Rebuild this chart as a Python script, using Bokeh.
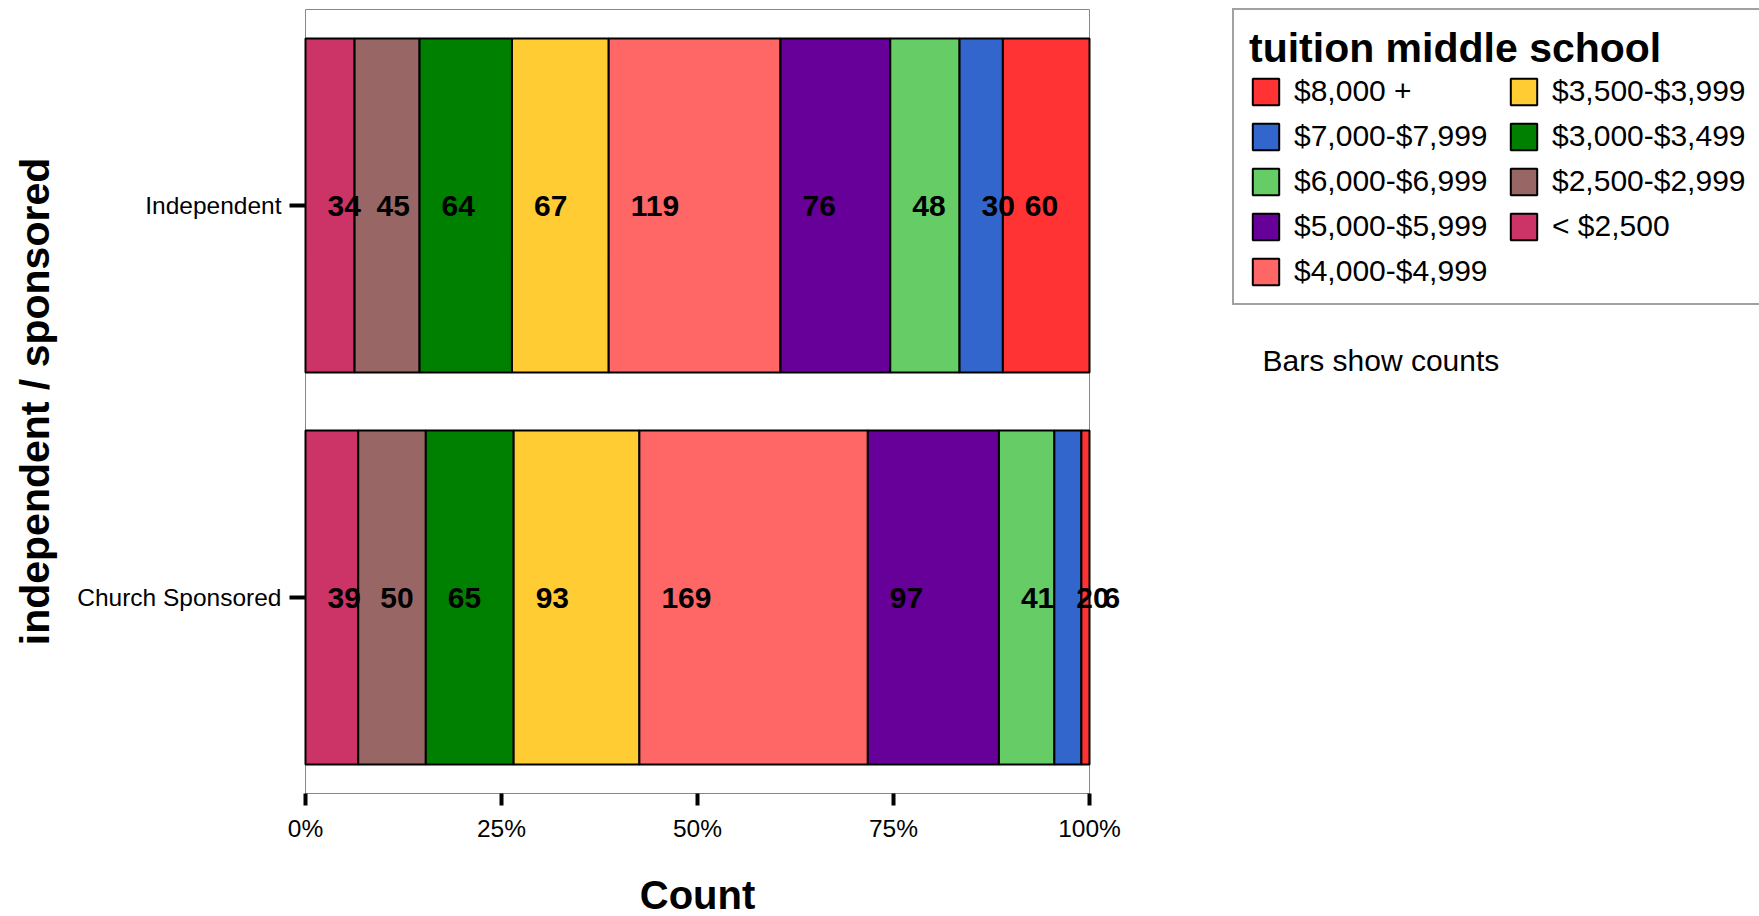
import math
from bokeh.plotting import figure
from bokeh.models import (Range1d, FixedTicker, NumeralTickFormatter,
                          Legend, LegendItem, Label, ColumnDataSource)
from bokeh.core.properties import value
from bokeh.embed import file_html
from bokeh.resources import INLINE

groups = ["Church Sponsored", "Independent"]
tuition = ["< $2,500", "$2,500-$2,999", "$3,000-$3,499", "$3,500-$3,999",
           "$4,000-$4,999", "$5,000-$5,999", "$6,000-$6,999", "$7,000-$7,999", "$8,000 +"]
colors = ["#CC3366", "#996666", "#008000", "#FFCC33", "#FF6666",
          "#660099", "#66CC66", "#3366CC", "#FF3333"]
counts_independent = [34, 45, 64, 67, 119, 76, 48, 30, 60]
counts_church = [39, 50, 65, 93, 169, 97, 41, 20, 6]
x_ticks = [0, 0.25, 0.5, 0.75, 1.0]

FONT = "Liberation Sans"

W, H = 1759, 916
# plot area (0..100%, both groups) in canvas pixels
PL, PR, PT, PB = 305, 1089, 9, 793
ux = float(PR - PL)              # px per 100%
uy = float(PB - PT) / len(groups)  # px per group
p = figure(width=W, height=H, output_backend="svg", toolbar_location=None,
           x_range=Range1d(-PL / ux, (W - PL) / ux),
           y_range=Range1d(-(H - PB) / uy, len(groups) + PT / uy),
           min_border_left=0, min_border_right=0, min_border_top=0, min_border_bottom=0)
p.outline_line_color = None
p.grid.visible = False
p.background_fill_color = "white"

# plot-area frame (0% .. 100%)
p.quad(left=[0], right=[1], bottom=[0], top=[len(groups)], fill_color=None,
       line_color="#888888", line_width=1)

data = {"Independent": counts_independent, "Church Sponsored": counts_church}
ypos = {g: i + 0.5 for i, g in enumerate(groups)}
renderers = []
lab_x, lab_y, lab_t = [], [], []
starts = {g: 0.0 for g in groups}
totals = {g: float(sum(data[g])) for g in groups}
for i, (name, col) in enumerate(zip(tuition, colors)):
    left, right, ys = [], [], []
    for g in ["Independent", "Church Sponsored"]:
        v = data[g][i] / totals[g]
        left.append(starts[g]); right.append(starts[g] + v); ys.append(ypos[g])
        lab_x.append(starts[g]); lab_y.append(ypos[g]); lab_t.append(str(data[g][i]))
        starts[g] += v
    src = ColumnDataSource(dict(y=ys, left=left, right=right))
    r = p.hbar(y="y", left="left", right="right", height=0.852, source=src,
               fill_color=col, line_color="black", line_width=2)
    renderers.append(r)

p.text(x=lab_x, y=lab_y, text=lab_t, x_offset=22, text_align="left", text_baseline="middle",
       text_font=value(FONT), text_font_style="bold", text_font_size="30px", text_color="black")

# axes, pinned to the plot-area edges
p.xaxis.ticker = FixedTicker(ticks=x_ticks)
p.xaxis.formatter = NumeralTickFormatter(format="0%")
p.xaxis.fixed_location = 0
p.yaxis.ticker = FixedTicker(ticks=[ypos[g] for g in groups])
p.yaxis.major_label_overrides = {ypos[g]: g for g in groups}
p.yaxis.fixed_location = 0
for ax in (p.xaxis, p.yaxis):
    ax.axis_line_color = None
    ax.major_tick_line_color = "black"
    ax.major_tick_line_width = 4
    ax.minor_tick_line_color = None
    ax.major_tick_in = 0
    ax.major_label_text_font = FONT
    ax.major_label_text_font_size = "24.5px"
    ax.major_label_text_color = "black"
p.xaxis.major_tick_out = 12
p.xaxis.major_label_standoff = 9
p.yaxis.major_tick_out = 16
p.yaxis.major_label_standoff = 8

# axis titles
p.add_layout(Label(x=697, y=H - 894, x_units="screen", y_units="screen", text="Count",
                   text_align="center", text_baseline="middle", text_font=FONT,
                   text_font_style="bold", text_font_size="40px", text_color="black"))
p.add_layout(Label(x=34, y=H - 401, x_units="screen", y_units="screen",
                   text="independent / sponsored", angle=math.pi / 2,
                   text_align="center", text_baseline="middle", text_font=FONT,
                   text_font_style="bold", text_font_size="41px", text_color="black"))

# legend
items = [LegendItem(label=tuition[i], renderers=[renderers[i]]) for i in range(len(tuition) - 1, -1, -1)]
legend = Legend(items=items, location=(1232, H - 305), nrows=5, orientation="vertical",
                title="tuition middle school", title_text_font=FONT, title_text_font_style="bold",
                title_text_font_size="41px", title_text_color="black", title_standoff=2,
                label_text_font=FONT, label_text_font_size="30px", label_text_color="black",
                glyph_width=33, glyph_height=33, label_height=33, label_width=202,
                label_standoff=12, spacing=11, padding=15, margin=0,
                border_line_color="#444444", border_line_width=2, background_fill_alpha=1)
p.add_layout(legend, "center")

note = Label(x=1262, y=H - 360, x_units="screen", y_units="screen", text="Bars show counts",
             text_font=FONT, text_font_size="30px", text_color="black", text_baseline="middle")
p.add_layout(note)

open("out.html", "w").write(file_html(p, INLINE))
